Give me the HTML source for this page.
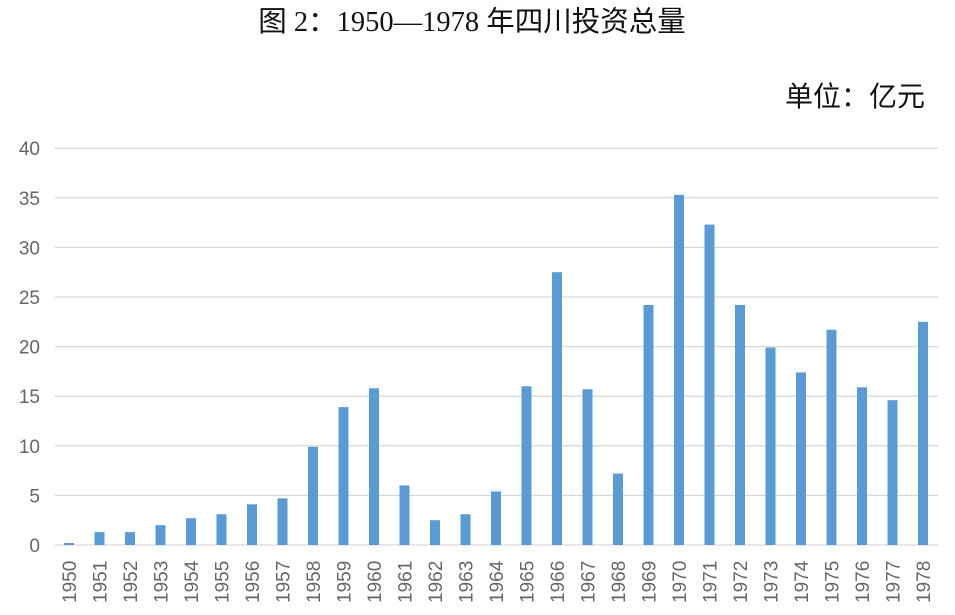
<!DOCTYPE html>
<html><head><meta charset="utf-8"><style>
body{margin:0;width:955px;height:615px;background:#fff;overflow:hidden}
svg{display:block}
</style></head><body>
<svg id="c" width="955" height="615" xmlns="http://www.w3.org/2000/svg">
<text x="472" y="31" text-anchor="middle" font-family="Liberation Serif, Noto Sans CJK SC, serif" font-size="28.5" fill="#111">图 2：1950—1978 年四川投资总量</text>
<text x="925" y="106" text-anchor="end" font-family="Liberation Sans, Noto Sans CJK SC, sans-serif" font-size="28" fill="#111">单位：亿元</text>
<g id="g"></g>
</svg>
<script>
var v=[0.2,1.3,1.3,2.0,2.7,3.1,4.1,4.7,9.9,13.9,15.8,6.0,2.5,3.1,5.4,16.0,27.5,15.7,7.2,24.2,35.3,32.3,24.2,19.9,17.4,21.7,15.9,14.6,22.5];
var s='';
for(var k=0;k<=8;k++){var y=545-k*49.6;s+='<line x1="55" x2="938" y1="'+y+'" y2="'+y+'" stroke="#d9d9d9" stroke-width="1.3"/>';
s+='<text x="40" y="'+(y+7)+'" text-anchor="end" font-family="Liberation Sans, sans-serif" font-size="19" fill="#666">'+(k*5)+'</text>';}
for(var i=0;i<v.length;i++){var x=69+30.5*i,h=v[i]*9.92;
s+='<rect x="'+(x-5)+'" y="'+(545-h)+'" width="10" height="'+h+'" fill="#5b9bd5"/>';
s+='<text transform="translate('+(x+7)+',603) rotate(-90)" font-family="Liberation Sans, sans-serif" font-size="19" fill="#666">'+(1950+i)+'</text>';}
document.getElementById('g').innerHTML=s;
</script>
</body></html>
